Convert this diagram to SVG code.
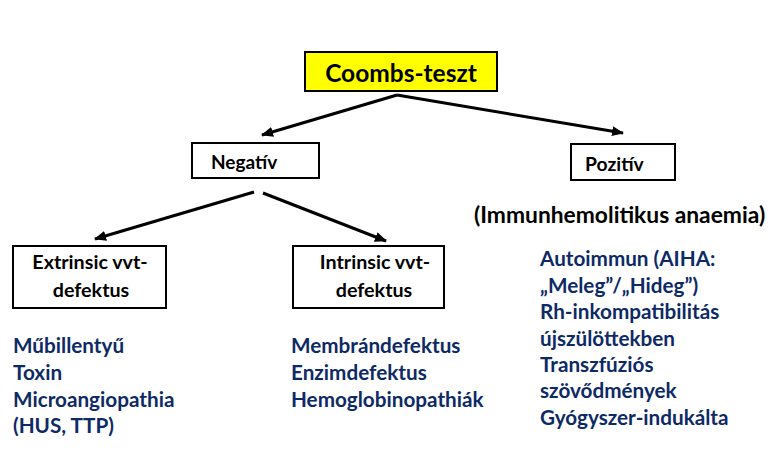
<svg xmlns="http://www.w3.org/2000/svg" width="778" height="470" viewBox="0 0 778 470">
<defs>
<marker id="ah" viewBox="0 0 12 10" refX="11" refY="5" markerWidth="12" markerHeight="10" markerUnits="userSpaceOnUse" orient="auto">
<path d="M0,0 L12,5 L0,10 Z" fill="#000"/>
</marker>
<style>
.box{fill:#fff;stroke:#000;stroke-width:2}
.t{font-family:Lato,"Liberation Sans",sans-serif;font-weight:bold;fill:#000}
.b{font-family:Lato,"Liberation Sans",sans-serif;font-weight:bold;fill:#0E2A66;font-size:20.7px}
.c{stroke:#000;stroke-width:3;fill:none;marker-end:url(#ah)}
</style>
</defs>
<rect width="778" height="470" fill="#fff"/>
<g id="connectors">
<line class="c" x1="397" y1="95" x2="262" y2="135"/>
<line class="c" x1="397" y1="95" x2="623" y2="133"/>
<line class="c" x1="254" y1="192" x2="95" y2="239"/>
<line class="c" x1="263" y1="193" x2="386" y2="241"/>
</g>
<g id="coombs">
<rect x="305" y="52" width="192" height="39" fill="#ffff00" stroke="#000" stroke-width="2"/>
<text class="t" x="401" y="82" font-size="24.5" text-anchor="middle">Coombs-teszt</text>
</g>
<g id="negativ">
<rect class="box" x="192" y="143" width="127" height="35"/>
<text class="t" x="211" y="169" font-size="19">Negatív</text>
</g>
<g id="pozitiv">
<rect class="box" x="571" y="144" width="104" height="36"/>
<text class="t" x="585" y="171" font-size="19.3">Pozitív</text>
</g>
<g id="immun">
<text class="t" x="474" y="223" font-size="22.8">(Immunhemolitikus anaemia)</text>
</g>
<g id="extrinsic">
<rect class="box" x="13" y="246" width="153" height="62"/>
<text class="t" x="90" y="269" font-size="19.7" text-anchor="middle">Extrinsic vvt-</text>
<text class="t" x="91" y="297" font-size="19.7" text-anchor="middle">defektus</text>
</g>
<g id="intrinsic">
<rect class="box" x="293" y="246" width="151" height="62"/>
<text class="t" x="375" y="269" font-size="19.7" text-anchor="middle">Intrinsic vvt-</text>
<text class="t" x="374" y="297" font-size="19.7" text-anchor="middle">defektus</text>
</g>
<g id="extrinsic-list">
<text class="b" x="13" y="353">Műbillentyű</text>
<text class="b" x="13" y="380">Toxin</text>
<text class="b" x="13" y="407">Microangiopathia</text>
<text class="b" x="13" y="433">(HUS, TTP)</text>
</g>
<g id="intrinsic-list">
<text class="b" x="291" y="353">Membrándefektus</text>
<text class="b" x="291" y="380">Enzimdefektus</text>
<text class="b" x="291" y="407">Hemoglobinopathiák</text>
</g>
<g id="pozitiv-list">
<text class="b" x="540" y="266">Autoimmun (AIHA:</text>
<text class="b" x="540" y="293">„Meleg”/„Hideg”)</text>
<text class="b" x="540" y="319">Rh-inkompatibilitás</text>
<text class="b" x="540" y="346">újszülöttekben</text>
<text class="b" x="540" y="372">Transzfúziós</text>
<text class="b" x="540" y="398">szövődmények</text>
<text class="b" x="540" y="425">Gyógyszer-indukálta</text>
</g>
</svg>
